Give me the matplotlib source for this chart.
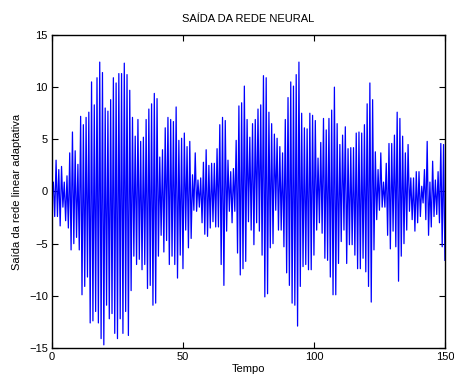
import numpy as np
import matplotlib
matplotlib.use('Agg')
import matplotlib.pyplot as plt

plt.rcParams['font.family'] = ['Liberation Sans', 'DejaVu Sans']

# picos (máximos) e vales (mínimos) da saída da rede, em ordem no tempo
picos = [0.9, 3.0, 2.1, 2.4, 0.9, 1.5, 3.7, 5.7, 3.9, 2.6,
         7.2, 6.4, 7.1, 7.6, 10.5, 8.3, 10.9, 12.4, 11.4,
         8.0, 7.7, 8.8, 10.9, 10.4, 11.3, 11.3, 12.3, 11.2, 9.7,
         7.1, 5.3, 6.9, 4.8, 5.2, 6.9, 7.9, 8.4, 9.4, 8.9, 3.3,
         4.0, 6.1, 7.1, 6.9, 6.7, 8.1, 4.9, 5.1, 5.6, 4.3,
         4.8, 1.6, 3.7, 1.1, 1.3, 2.8, 4.0, 2.5, 2.7, 2.7,
         4.1, 6.4, 7.1, 6.8, 3.0, 1.9, 2.2, 4.9, 8.2, 8.5,
         10.1, 6.9, 5.2, 6.5, 6.9, 7.9, 8.3, 11.1, 10.9, 7.6,
         6.5, 5.5, 5.1, 4.3, 3.7, 6.9, 9.0, 10.5, 10.1, 11.2,
         12.4, 7.5, 6.1, 6.0, 7.5, 7.3, 6.8, 3.2, 4.7, 7.0, 5.9,
         7.0, 7.8, 10.0, 6.5, 4.5, 5.4, 6.2, 4.1, 4.2, 4.2,
         5.6, 5.7, 5.6, 6.4, 8.4, 10.4, 8.8, 3.8, 2.1, 3.7,
         0.9, 2.7, 4.6, 4.6, 5.4, 7.6, 7.0, 5.3, 3.7, 4.5,
         1.3, 1.3, 1.9, 1.9, 0.5, 2.1, 4.8, 0.9, 2.9, 1.1,
         1.9, 4.6, 4.5]
vales = [-2.4, -2.4, -3.3, -1.5, -2.8, -3.5, -5.6, -5.0, -4.4, -5.6,
         -9.9, -9.1, -8.2, -12.6, -12.4, -11.5, -12.6, -14.1, -14.7,
         -10.9, -12.2, -11.7, -13.6, -14.1, -12.2, -13.6, -11.5, -13.8, -9.5,
         -6.2, -7.0, -6.5, -7.5, -7.0, -9.3, -9.0, -10.9, -10.7, -6.2, -4.2,
         -5.8, -4.7, -7.0, -6.2, -7.0, -8.3, -6.1, -7.4, -3.7, -5.4,
         -4.5, -1.8, -1.9, -1.5, -3.0, -4.1, -4.3, -3.5, -2.9, -3.4,
         -3.4, -7.0, -9.0, -3.8, -1.9, -3.0, -1.9, -5.9, -8.0, -7.4,
         -6.7, -2.9, -3.7, -5.1, -3.0, -3.8, -6.1, -10.1, -9.8, -5.4,
         -5.0, -1.8, -3.7, -3.7, -5.3, -7.8, -9.0, -10.7, -10.9, -12.9,
         -9.1, -7.2, -7.0, -7.5, -7.5, -6.1, -3.7, -3.0, -4.0, -6.4, -6.6,
         -8.2, -9.9, -9.9, -6.9, -4.8, -3.7, -6.9, -5.1, -5.1, -6.1,
         -7.4, -7.4, -6.4, -7.7, -9.1, -10.6, -5.6, -2.7, -1.8, -1.5,
         -1.5, -4.2, -5.5, -3.8, -5.3, -8.6, -6.2, -5.0, -3.7, -1.9,
         -2.7, -3.8, -3.0, -2.4, -1.1, -2.7, -4.2, -3.4, -2.4, -2.2,
         -3.0, -5.3, -6.6]

saida = np.empty(2 * len(picos))
saida[0::2] = picos
saida[1::2] = vales
saida = np.concatenate([[0.0], saida])
tempo = np.linspace(0, 150, len(saida))

fig = plt.figure(figsize=(4.54, 3.76), dpi=100)
ax = fig.add_axes([0.1145, 0.0745, 0.8655, 0.8325])
ax.plot(tempo, saida, color='#0000ff', lw=0.9)

ax.set_xlim(0, 150)
ax.set_ylim(-15, 15)
ax.set_xticks([0, 50, 100, 150])
ax.set_yticks([-15, -10, -5, 0, 5, 10, 15])
ax.tick_params(direction='in', top=True, right=True, length=4, width=0.8,
               labelsize=8, pad=3)
for s in ax.spines.values():
    s.set_linewidth(1.0)

ax.set_title('SAÍDA DA REDE NEURAL', fontsize=8, pad=9)
ax.set_xlabel('Tempo', fontsize=8, labelpad=1)
ax.set_ylabel('Saída da rede linear adaptativa', fontsize=8, labelpad=5)

fig.savefig('out.png', dpi=100)
